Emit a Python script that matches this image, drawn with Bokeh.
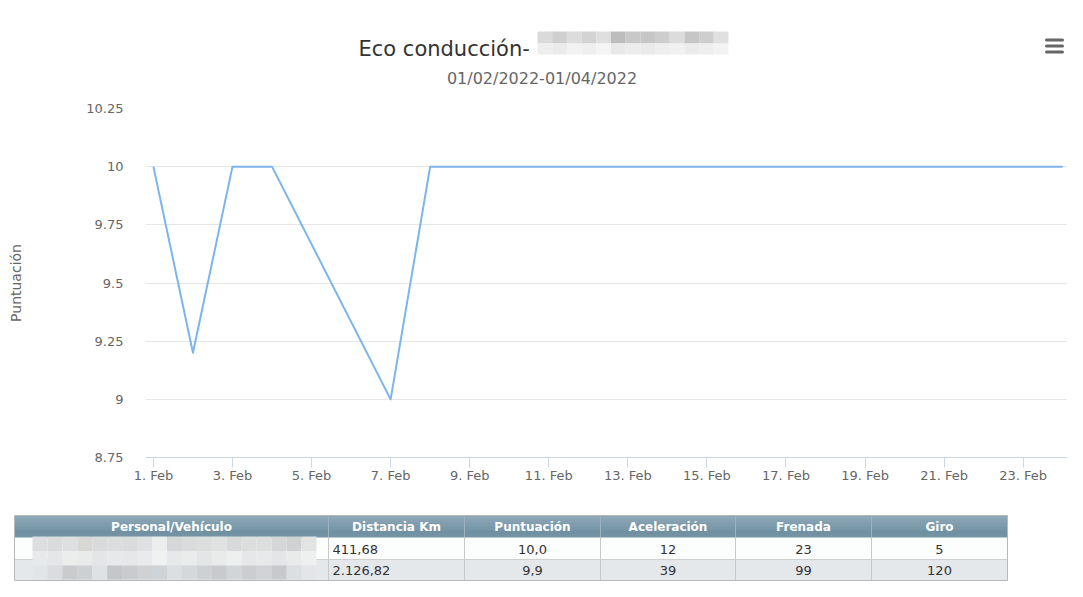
import pandas as pd
from bokeh.plotting import figure
from bokeh.layouts import column
from bokeh.models import Range1d, FixedTicker
from bokeh.core.properties import value
from bokeh.embed import file_html
from bokeh.resources import INLINE

# ---------------- data ----------------
title_text = "Eco conducción-"
subtitle_text = "01/02/2022-01/04/2022"
y_axis_title = "Puntuación"

dates = ["2022-02-01", "2022-02-02", "2022-02-03", "2022-02-04", "2022-02-07",
         "2022-02-08", "2022-02-09", "2022-02-10", "2022-02-11", "2022-02-14",
         "2022-02-15", "2022-02-16", "2022-02-17", "2022-02-18", "2022-02-21",
         "2022-02-22", "2022-02-23", "2022-02-24"]
scores = [10, 9.2, 10, 10, 9, 10, 10, 10, 10, 10, 10, 10, 10, 10, 10, 10, 10, 10]

x_tick_dates = ["2022-02-01", "2022-02-03", "2022-02-05", "2022-02-07", "2022-02-09",
                "2022-02-11", "2022-02-13", "2022-02-15", "2022-02-17", "2022-02-19",
                "2022-02-21", "2022-02-23"]
x_tick_labels = ["1. Feb", "3. Feb", "5. Feb", "7. Feb", "9. Feb", "11. Feb",
                 "13. Feb", "15. Feb", "17. Feb", "19. Feb", "21. Feb", "23. Feb"]
y_ticks = [8.75, 9.0, 9.25, 9.5, 9.75, 10.0, 10.25]
y_tick_labels = ["8.75", "9", "9.25", "9.5", "9.75", "10", "10.25"]

table_headers = ["Personal/Vehículo", "Distancia Km", "Puntuación", "Aceleración", "Frenada", "Giro"]
table_distance = ["411,68", "2.126,82"]
table_score = ["10,0", "9,9"]
table_accel = ["12", "39"]
table_brake = ["23", "99"]
table_turn = ["5", "120"]

# pixelated (anonymised) name decorations
title_pix_top = ["#dadada", "#cfcfcf", "#dcdcdc", "#d3d3d3", "#dfdfdf", "#bdbdbd", "#c8c8c8",
                 "#c6c6c6", "#cdcdcd", "#dcdcdc", "#c6c6c6", "#cecece", "#e0e0e0"]
title_pix_bot = ["#eeeeee", "#ebebeb", "#f2f2f2", "#efefef", "#f5f5f5", "#e9e9e9", "#ececec",
                 "#eaeaea", "#eeeeee", "#f1f1f1", "#ebebeb", "#eeeeee", "#f3f3f3"]
name_pix_1 = ["#dddedf", "#d9dbdc", "#dedfe0", "#d7d8d6", "#d9dadb", "#dcdddd", "#dadbdc",
              "#dfe0e1", "#eceeee", "#d6d7d8", "#dadbdc", "#dcdddd", "#e0e1e1", "#d8d9da",
              "#dcdddd", "#dddede", "#d5d6d7", "#d0d1d2", "#e2e3e3"]
name_pix_2 = ["#e8e9ea", "#e5e6e7", "#ebecec", "#e9eaea", "#e4e5e6", "#e7e8e9", "#e6e7e8",
              "#e9eaeb", "#f0f1f1", "#e7e8e9", "#eaebeb", "#e4e5e6", "#e9eaea", "#eeefef",
              "#e6e7e8", "#e8e9ea", "#e4e5e6", "#e9eaea", "#eeefef"]
name_pix_3 = ["#e2e5e8", "#dadcdf", "#c9cbcd", "#cdd0d2", "#dfe2e5", "#c4c6c9", "#c9cbce",
              "#cfd1d3", "#d0d3d5", "#dcdfe2", "#d5d8db", "#ced1d4", "#c8cacd", "#d2d5d7",
              "#cbcdd0", "#d0d2d5", "#c7c9cc", "#dcdfe2", "#e3e5e8"]

FONT = value("DejaVu Sans")
W = 1067

def blank_fig(h):
    f = figure(width=W, height=h, output_backend="svg", toolbar_location=None,
               x_range=Range1d(0, W), y_range=Range1d(h, 0), frame_align=False,
               min_border=0, x_axis_location=None, y_axis_location=None)
    f.grid.visible = False
    f.outline_line_color = None
    f.background_fill_color = "white"
    f.border_fill_color = "white"
    return f

# ---------------- header ----------------
hdr = blank_fig(98)
hdr.text(x=[358], y=[48.5], text=[title_text], text_align="left", text_baseline="alphabetic",
         text_font=FONT, text_font_size="21px", text_color="#333333")
n = len(title_pix_top)
bw = 191 / n
xs_l = [537 + i * bw for i in range(n)]
xs_r = [537 + (i + 1) * bw for i in range(n)]
hdr.quad(left=xs_l, right=xs_r, top=[31] * n, bottom=[43] * n, fill_color=title_pix_top, line_color=None)
hdr.quad(left=xs_l, right=xs_r, top=[43] * n, bottom=[54] * n, fill_color=title_pix_bot, line_color=None)
hdr.text(x=[541.5], y=[78], text=[subtitle_text], text_align="center", text_baseline="middle",
         text_font=FONT, text_font_size="16px", text_color="#666666")
hdr.segment(x0=[1046] * 3, x1=[1062] * 3, y0=[39.5, 45.5, 51.5], y1=[39.5, 45.5, 51.5],
            line_color="#666666", line_width=3, line_cap="round")

# ---------------- chart ----------------
origin = pd.Timestamp("2022-02-01")
x_days = [(pd.Timestamp(d) - origin).days for d in dates]
x_ticks = [(pd.Timestamp(d) - origin).days for d in x_tick_dates]

p = figure(width=W, height=407, output_backend="svg", toolbar_location=None,
           x_range=Range1d(-0.2, 23.12), y_range=Range1d(8.75, 10.25), frame_align=False,
           min_border_left=145, min_border_right=0, min_border_top=10, min_border_bottom=48)
p.outline_line_color = None
p.background_fill_color = "white"
p.border_fill_color = "white"
p.line(x_days, scores, line_color="#7cb5ec", line_width=2, line_join="round")

p.xgrid.visible = False
p.ygrid.grid_line_color = "#e6e6e6"
p.ygrid.ticker = FixedTicker(ticks=y_ticks)

p.xaxis.ticker = FixedTicker(ticks=x_ticks)
p.xaxis.major_label_overrides = {t: l for t, l in zip(x_ticks, x_tick_labels)}
p.xaxis.axis_line_color = "#ccd6eb"
p.xaxis.major_tick_line_color = "#ccd6eb"
p.xaxis.major_tick_in = 0
p.xaxis.major_tick_out = 10
p.xaxis.minor_tick_line_color = None
p.xaxis.major_label_standoff = 0
p.xaxis.major_label_text_font = "DejaVu Sans"
p.xaxis.major_label_text_font_size = "13px"
p.xaxis.major_label_text_color = "#666666"

p.yaxis.ticker = FixedTicker(ticks=y_ticks)
p.yaxis.major_label_overrides = {t: l for t, l in zip(y_ticks, y_tick_labels)}
p.yaxis.axis_line_color = None
p.yaxis.major_tick_line_color = None
p.yaxis.minor_tick_line_color = None
p.yaxis.major_tick_in = 0
p.yaxis.major_tick_out = 0
p.yaxis.major_label_standoff = 22
p.yaxis.major_label_text_font = "DejaVu Sans"
p.yaxis.major_label_text_font_size = "13px"
p.yaxis.major_label_text_color = "#666666"
p.yaxis.axis_label = y_axis_title
p.yaxis.axis_label_text_font = "DejaVu Sans"
p.yaxis.axis_label_text_font_size = "14px"
p.yaxis.axis_label_text_font_style = "normal"
p.yaxis.axis_label_text_color = "#666666"
p.yaxis.axis_label_standoff = 59

# ---------------- table ----------------
t = blank_fig(76)
col_edges = [14, 328, 464, 600, 735, 871, 1007]
h_top, h_bot, r1_bot, r2_bot = 10, 32, 54, 75
# header gradient (layered so no seams)
grad = ["#8ca8b7", "#86a2b2", "#7f9cad", "#7897a8", "#7191a2", "#7393a4"]
gh = (h_bot - h_top) / len(grad)
t.quad(left=[col_edges[0]] * len(grad), right=[col_edges[-1]] * len(grad),
       top=[h_top + i * gh for i in range(len(grad))],
       bottom=[h_bot] * len(grad),
       fill_color=grad, line_color=None)
# rows
t.quad(left=[col_edges[0]], right=[col_edges[-1]], top=[h_bot], bottom=[r1_bot],
       fill_color="#fcfdfd", line_color=None)
t.quad(left=[col_edges[0]], right=[col_edges[-1]], top=[r1_bot], bottom=[r2_bot],
       fill_color="#e5e8eb", line_color=None)
# grid lines
t.segment(x0=col_edges[1:-1], x1=col_edges[1:-1], y0=[h_top] * 5, y1=[h_bot] * 5,
          line_color="#9db3bf", line_width=1)
t.segment(x0=col_edges[1:-1], x1=col_edges[1:-1], y0=[h_bot] * 5, y1=[r2_bot] * 5,
          line_color="#c8c8c8", line_width=1)
t.segment(x0=[col_edges[0]], x1=[col_edges[-1]], y0=[r1_bot], y1=[r1_bot],
          line_color="#cfcfcf", line_width=1)
# pixelated names
m = len(name_pix_1)
nw = 284 / m
nl = [32 + i * nw for i in range(m)]
nr = [32 + (i + 1) * nw for i in range(m)]
for band, (y0, y1) in zip([name_pix_1, name_pix_2, name_pix_3], [(31, 45.5), (45.5, 60), (60, 74)]):
    t.quad(left=nl, right=nr, top=[y0] * m, bottom=[y1] * m, fill_color=band, line_color=None)
# outer border
t.quad(left=[col_edges[0]], right=[col_edges[-1]], top=[h_top], bottom=[r2_bot],
       fill_color=None, line_color="#b8b8b8", line_width=1)
# header texts
centers = [(col_edges[i] + col_edges[i + 1]) / 2 for i in range(6)]
t.text(x=centers, y=[21.5] * 6, text=table_headers, text_align="center", text_baseline="middle",
       text_font=FONT, text_font_size="12px", text_font_style="bold", text_color="white")
# body texts
t.text(x=[col_edges[1] + 4] * 2, y=[43.5, 65], text=table_distance, text_align="left",
       text_baseline="middle", text_font=FONT, text_font_size="13px", text_color="#333333")
for ci, vals in zip([2, 3, 4, 5], [table_score, table_accel, table_brake, table_turn]):
    t.text(x=[centers[ci]] * 2, y=[43.5, 65], text=vals, text_align="center",
           text_baseline="middle", text_font=FONT, text_font_size="13px", text_color="#333333")

layout = column(hdr, p, t, spacing=0)
open("out.html", "w").write(file_html(layout, INLINE))
